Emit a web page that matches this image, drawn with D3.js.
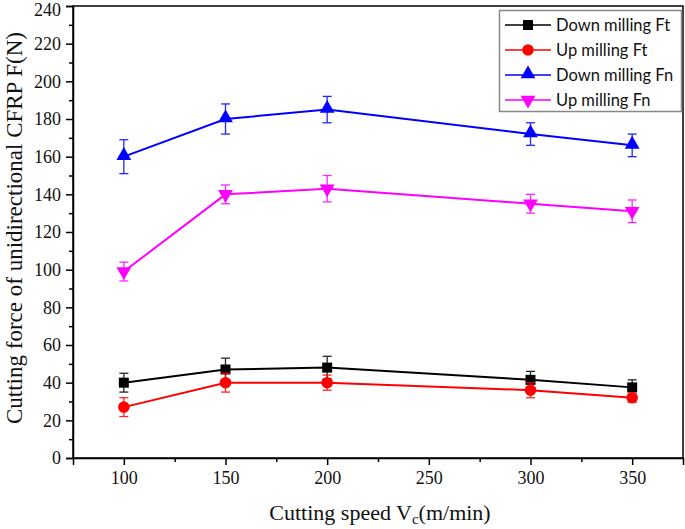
<!DOCTYPE html>
<html><head><meta charset="utf-8">
<script src="https://cdn.jsdelivr.net/npm/d3@7"></script>
<style>body{margin:0;background:#fff}svg{display:block}</style>
</head><body>
<svg id="chart" width="685" height="529"></svg>
<script>
const speeds = [100, 150, 200, 300, 350];
const seriesNames = ["Down milling Ft", "Up milling Ft", "Down milling Fn", "Up milling Fn"];
const downFt = [40, 47, 48, 41.5, 37.5];
const downFtErr = [5, 6, 6, 4.5, 4];
const upFt = [27, 40, 40, 36, 32];
const upFtErr = [5, 5, 4, 4, 2.5];
const downFn = [160, 180, 185, 172, 166];
const downFnErr = [9, 8, 7, 6, 6];
const upFn = [99, 140, 143, 135, 131];
const upFnErr = [5, 5, 7, 5, 6];
const colors = ["#000000", "#ff0000", "#0000ff", "#ff00ff"];
const markers = ["square", "circle", "triangle", "triangleDown"];
const xTicks = [100, 150, 200, 250, 300, 350];
const yTicks = [0, 20, 40, 60, 80, 100, 120, 140, 160, 180, 200, 220, 240];

const values = [downFt, upFt, downFn, upFn];
const errs = [downFtErr, upFtErr, downFnErr, upFnErr];

const svg = d3.select("#chart");
const L = 73, R = 683, T = 6, B = 458;
const x = d3.scaleLinear().domain([75, 375]).range([L, R]);
const y = d3.scaleLinear().domain([0, 240]).range([B, T]);
const serif = "'Liberation Serif', 'Times New Roman', serif";

// frame
svg.append("rect").attr("x", L).attr("y", T).attr("width", R - L).attr("height", B - T)
  .attr("fill", "none").attr("stroke", "#000").attr("stroke-width", 1.5);

// x axis
svg.append("g").attr("transform", `translate(0,${B})`)
  .call(d3.axisBottom(x).tickValues(xTicks).tickSize(7).tickPadding(6).tickFormat(d3.format("d")));
svg.append("g").attr("transform", `translate(0,${B})`)
  .call(d3.axisBottom(x).tickValues(d3.range(125, 375, 50)).tickSize(4).tickFormat(""))
  .call(g => g.select(".domain").remove());
// y axis
svg.append("g").attr("transform", `translate(${L},0)`)
  .call(d3.axisLeft(y).tickValues(yTicks).tickSize(7).tickPadding(5).tickFormat(d3.format("d")));
svg.append("g").attr("transform", `translate(${L},0)`)
  .call(d3.axisLeft(y).tickValues(d3.range(10, 240, 20)).tickSize(4).tickFormat(""))
  .call(g => g.select(".domain").remove());
svg.selectAll(".tick line").attr("stroke", "#000").attr("stroke-width", 1.5);
svg.selectAll(".domain").attr("stroke", "#000").attr("stroke-width", 1.5);
svg.selectAll(".tick text").attr("font-family", serif).attr("font-size", 18).attr("fill", "#111")
  .filter(d => d === 240).attr("dy", "0.55em");

// axis titles
const xt = svg.append("text").attr("x", 380).attr("y", 520).attr("text-anchor", "middle")
  .attr("font-family", serif).attr("font-size", 22).attr("fill", "#111");
xt.append("tspan").text("Cutting speed V");
xt.append("tspan").attr("font-size", 15).attr("dy", 4).text("c");
xt.append("tspan").attr("dy", -4).text("(m/min)");
svg.append("text").attr("transform", `translate(22,228) rotate(-90)`)
  .attr("text-anchor", "middle").attr("font-family", serif).attr("font-size", 23).attr("fill", "#111")
  .text("Cutting force of unidirectional CFRP F(N)");

const sym = {
  square: d3.symbol().type(d3.symbolSquare).size(100),
  circle: d3.symbol().type(d3.symbolCircle).size(105),
  triangle: d3.symbol().type(d3.symbolTriangle).size(95),
  triangleDown: d3.symbol().type(d3.symbolTriangle).size(95)
};
function drawMarker(g, kind, cx, cy, color) {
  const p = g.append("path").attr("d", sym[kind]()).attr("fill", color);
  if (kind === "triangleDown") p.attr("transform", `translate(${cx},${cy}) rotate(180)`);
  else if (kind === "triangle") p.attr("transform", `translate(${cx},${cy - 1})`);
  else p.attr("transform", `translate(${cx},${cy})`);
}

const line = d3.line().x(d => x(d[0])).y(d => y(d[1]));
values.forEach((vals, i) => {
  const g = svg.append("g");
  const pts = speeds.map((s, j) => [s, vals[j]]);
  pts.forEach((p, j) => {
    const e = errs[i][j], cx = x(p[0]);
    const eb = g.append("g").attr("stroke", colors[i]).attr("stroke-width", 1.3).attr("opacity", 0.85);
    eb.append("line").attr("x1", cx).attr("x2", cx).attr("y1", y(p[1] + e)).attr("y2", y(p[1] - e));
    eb.append("line").attr("x1", cx - 4.5).attr("x2", cx + 4.5).attr("y1", y(p[1] + e)).attr("y2", y(p[1] + e));
    eb.append("line").attr("x1", cx - 4.5).attr("x2", cx + 4.5).attr("y1", y(p[1] - e)).attr("y2", y(p[1] - e));
  });
  g.append("path").datum(pts).attr("d", line).attr("fill", "none").attr("stroke", colors[i]).attr("stroke-width", 2);
  pts.forEach(p => drawMarker(g, markers[i], x(p[0]), y(p[1]), colors[i]));
});

// legend
const lg = svg.append("g");
lg.append("rect").attr("x", 499.5).attr("y", 10.5).attr("width", 182).attr("height", 101)
  .attr("fill", "#fff").attr("stroke", "#888").attr("stroke-width", 1.5);
seriesNames.forEach((n, i) => {
  const cy = 25 + i * 25;
  lg.append("line").attr("x1", 505).attr("x2", 551).attr("y1", cy).attr("y2", cy)
    .attr("stroke", colors[i]).attr("stroke-width", 1.5);
  drawMarker(lg, markers[i], 528, cy, colors[i]);
  lg.append("text").attr("x", 556).attr("y", cy).attr("dy", "0.35em")
    .attr("font-family", "Lato, 'Open Sans', sans-serif").attr("font-size", 16.5).attr("fill", "#111").text(n);
});
</script>
</body></html>
